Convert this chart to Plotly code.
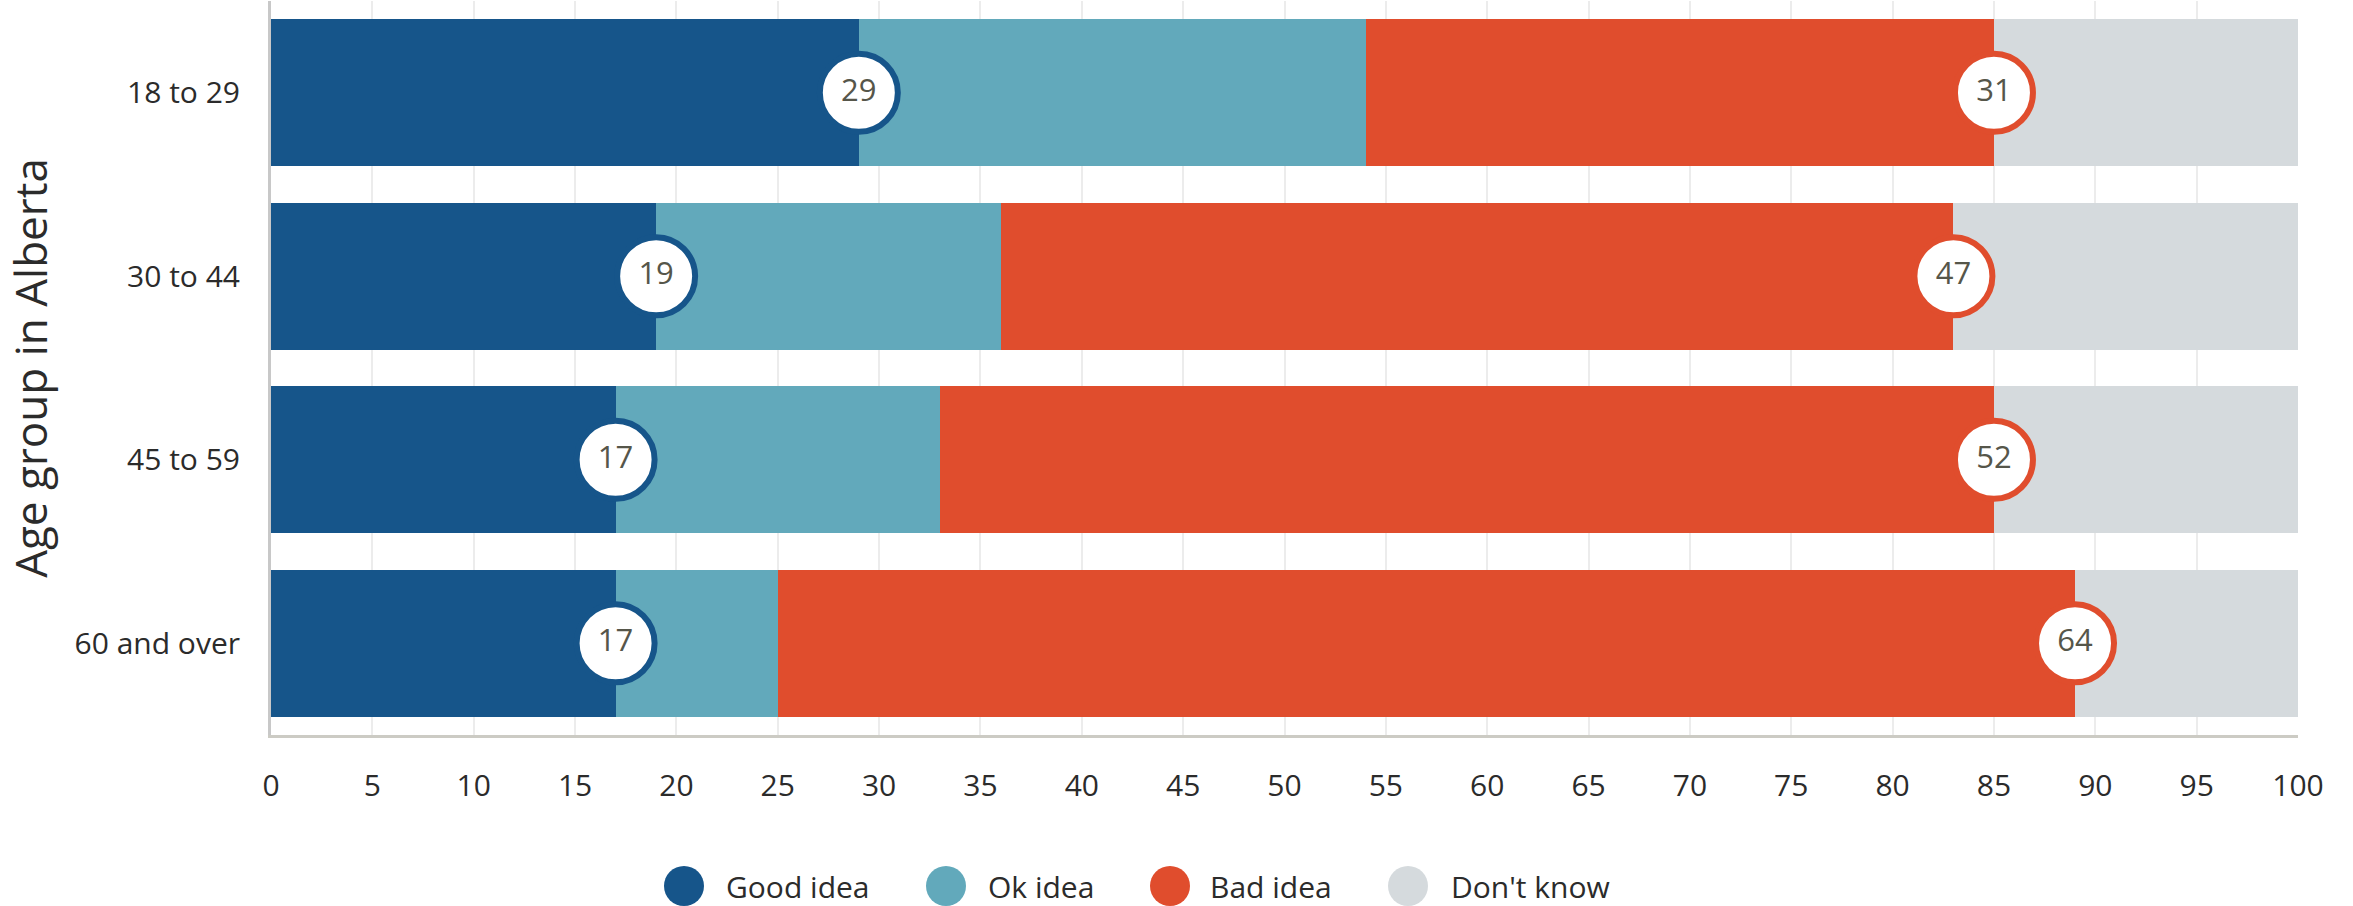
import plotly.graph_objects as go

categories = ["18 to 29", "30 to 44", "45 to 59", "60 and over"]
good = [29, 19, 17, 17]
ok = [25, 17, 16, 8]
bad = [31, 47, 52, 64]
dont_know = [15, 17, 15, 11]

series_names = ["Good idea", "Ok idea", "Bad idea", "Don't know"]
colors = ["#16558a", "#62a9bb", "#e04d2d", "#d5dadd"]

FONT = "Open Sans"
TEXT = "#2b2b2b"

fig = go.Figure()
for name, vals, col in zip(series_names, [good, ok, bad, dont_know], colors):
    fig.add_trace(go.Bar(
        y=categories, x=vals, name=name, orientation="h",
        marker=dict(color=col, line=dict(width=0)), showlegend=False,
        hoverinfo="x+name",
    ))

# bubble labels at the end of Good and Bad segments
good_end = good
bad_end = [g + o + b for g, o, b in zip(good, ok, bad)]
for xs, vals, col in [(good_end, good, colors[0]), (bad_end, bad, colors[2])]:
    fig.add_trace(go.Scatter(
        x=xs, y=categories, mode="markers+text",
        marker=dict(size=78, color="white", line=dict(color=col, width=6)),
        text=[str(v) for v in vals], textposition="middle center",
        textfont=dict(family=FONT, size=31, color="#56564a"),
        showlegend=False, hoverinfo="skip",
    ))

# custom legend with large circles
legend_circle_x = [684, 946, 1170, 1408]
legend_text_x = [725, 987, 1209, 1450]
LEG_Y = 886
W, H = 2353, 906
PL, PR, PT, PB = 271, 2298, 1, 735
shapes = []
annotations = []
for name, col, cx, tx in zip(series_names, colors, legend_circle_x, legend_text_x):
    shapes.append(dict(
        type="circle", xref="paper", yref="paper",
        xsizemode="pixel", ysizemode="pixel",
        xanchor=(cx - PL) / (PR - PL), yanchor=(PB - LEG_Y) / (PB - PT),
        x0=-20, x1=20, y0=-20, y1=20,
        fillcolor=col, line=dict(width=0),
    ))
    annotations.append(dict(
        xref="paper", yref="paper",
        x=(tx - PL) / (PR - PL), y=(PB - LEG_Y) / (PB - PT),
        text=name, showarrow=False, xanchor="left", yanchor="middle",
        borderpad=0,
        font=dict(family=FONT, size=30, color=TEXT),
    ))

fig.update_layout(
    barmode="stack",
    bargap=0.2,
    width=W, height=H,
    margin=dict(l=PL, r=W - PR, t=PT, b=H - PB),
    plot_bgcolor="white", paper_bgcolor="white",
    font=dict(family=FONT, color=TEXT),
    shapes=shapes,
    annotations=annotations,
    xaxis=dict(
        range=[0, 100], tickmode="linear", tick0=0, dtick=5,
        showgrid=True, gridcolor="#ececec", gridwidth=2,
        showline=True, linecolor="#cccbc4", linewidth=3,
        ticks="", ticklabelstandoff=22,
        tickfont=dict(family=FONT, size=30, color=TEXT),
        zeroline=False, fixedrange=True,
    ),
    yaxis=dict(
        categoryorder="array", categoryarray=categories, autorange="reversed",
        showline=True, linecolor="#c8c8c8", linewidth=3,
        ticks="", ticklabelstandoff=22,
        tickfont=dict(family=FONT, size=30, color=TEXT),
        title=dict(text="Age group in Alberta", standoff=26,
                   font=dict(family=FONT, size=44, color=TEXT)),
        showgrid=False, zeroline=False,
    ),
)

fig.write_html("out.html")
